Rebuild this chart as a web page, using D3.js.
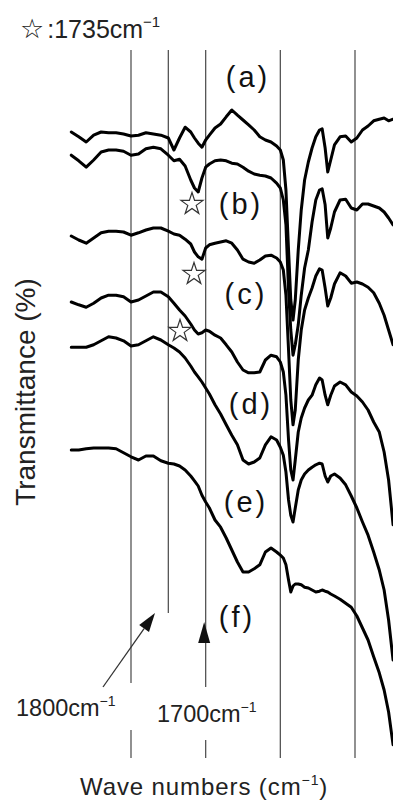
<!DOCTYPE html>
<html><head><meta charset="utf-8">
<script src="https://cdn.jsdelivr.net/npm/d3@7"></script>
<style>html,body{margin:0;padding:0;background:#fff}svg{display:block}</style>
</head><body>
<svg id="chart" width="393" height="801"></svg>
<script>
// ---- DATA ----
const wavenumbers = [2060,2040,2020,2000,1980,1960,1940,1920,1900,1880,
  1860,1840,1820,1800,1785,1770,1755,1740,1730,1720,
  1710,1700,1690,1675,1660,1645,1630,1615,1600,1585,
  1570,1555,1540,1525,1510,1500,1492,1485,1478,1472,
  1466,1460,1452,1444,1435,1425,1415,1405,1395,1388,
  1380,1373,1365,1355,1340,1325,1310,1295,1280,1265,
  1250,1235,1222,1210,1198];

const seriesA = [83.5,82.9,82.25,83.1,83.5,83.4,83.4,83.25,83,83.1,
  83.4,83.25,83.1,82.75,81.25,82.75,84.1,83.5,82.75,82.1,
  81.6,82.5,83.1,84,84.5,85.4,86.25,85.6,85,84.4,
  83.75,82.9,82.5,82.25,81.75,81.25,80,76.25,68.75,62.5,
  60,62.5,68.75,73.75,77.5,79.75,81.5,82.9,83.75,83.9,
  81.5,78.5,80,81.9,82.9,83,82.25,82.75,83.75,84.25,
  84.9,85.1,85.25,84.9,85.1];

const seriesB = [80.6,79.9,79.1,80,81,81.25,81.25,81.1,80.6,80.75,
  81.4,81.6,81.4,80.6,79.9,80.1,79.25,77.5,76.5,76,
  77.75,79.1,79.5,79.9,80,79.9,79.6,79.5,79.1,78.6,
  78.25,78.1,78,77.75,77.1,76.5,75,71.9,63.75,58.75,
  55.6,56.9,59.4,63.1,66.5,68.75,72.25,75,76.25,76.4,
  74.4,70.25,71.5,73.5,75,75.1,74,73.75,74.5,74.5,
  74.25,74,73.5,72.75,71.9];

const seriesC = [70.5,70,69.6,70.25,70.9,71.1,71.1,71,70.6,70.9,
  71.25,71.5,71.5,71.1,70.75,70.6,70.1,69.5,68.5,67.9,
  67.6,69,69.4,69.6,69.75,69.9,69.6,68.75,67.6,67.25,
  67.1,67.5,68,68.1,67.75,67.25,66.25,63.1,56.25,50,
  46.9,48.75,55,58.75,61.25,62.75,64,65.5,66.4,66.25,
  64,61.75,62.75,64.5,65.9,65.5,64.6,64.75,64.5,64.1,
  63.4,62.1,60.6,58.75,56.9];

const seriesD = [62.25,61.9,61.6,62.1,62.75,63.1,63.1,62.9,62.25,62.5,
  63,63.5,63.5,62.9,62.1,61.25,60.5,59.5,58.75,58.25,
  58.4,58.75,58.6,58.1,57.75,56.9,56,54.75,53.75,53.4,
  53.4,53.5,55,55.6,55.4,54.75,53.5,50.6,45,41.25,
  40,42.5,46,47.75,49,50,50.6,51.9,52.75,52.5,
  50.6,49.4,50.6,51.75,52.25,51.9,51,50.5,49.75,48.75,
  47.25,46,43.5,40,34.4];

const seriesE = [56.6,56.6,56.6,56.9,57.4,57.9,57.75,57.4,56.75,56.9,
  57.4,57.9,57.5,56.9,56.5,56,55.25,54.25,53.5,52.9,
  52.25,51.5,50.75,49.4,48.25,46.9,45.6,44.4,42.5,42,
  42.25,42.75,44.4,45.4,45,44.1,43.1,41,37.5,35.6,
  34.75,36.5,38.75,40,40.75,41.25,41.6,41.9,42.1,42,
  40.5,39.75,40.5,40.75,40.25,39.4,38,36.5,34.75,33.1,
  31,28.75,26.25,22.5,17.5];

const seriesF = [43.75,43.75,43.9,44,44,44,43.9,43.4,42.9,42.5,
  43,43,42.4,42.1,42,41.75,41.25,40.5,39.9,39.25,
  38.1,37.25,36.5,35,34.1,32.75,31.25,29.75,28.5,28.5,
  28.9,29.4,31,31.5,31,30.6,30.25,29.4,27.5,26,
  26.75,27,27,26.9,26.6,26.5,26.25,26,26.1,26.25,
  26.1,26,25.75,25.5,25.1,24.6,24.1,23,21.5,20,
  17.9,15.9,13.75,11,6.9];

const seriesLabels = ["(a)","(b)","(c)","(d)","(e)","(f)"];
const gridWavenumbers = [1900,1800,1700,1500,1300];
const markerLabel = "1735";
const axisLabelX = "Wave numbers (cm";
const axisLabelY = "Transmittance (%)";
const tickLabel1800 = "1800cm";
const tickLabel1700 = "1700cm";

// ---- CHART ----
const svg = d3.select("#chart");
const font = "'Liberation Sans', Arial, sans-serif";
const x = d3.scaleLinear().domain([1900, 1300]).range([131, 355]);
const y = d3.scaleLinear().domain([0, 100]).range([800, 0]);

// vertical reference lines (with gaps for labels)
const gridSegments = {
  1900: [[50, 683], [730, 758]],
  1800: [[50, 613]],
  1700: [[50, 687], [740, 758]],
  1500: [[50, 758]],
  1300: [[50, 758]]
};
const gGrid = svg.append("g");
gridWavenumbers.forEach(w => {
  gridSegments[w].forEach(([y1, y2]) => {
    gGrid.append("line")
      .attr("x1", x(w)).attr("x2", x(w))
      .attr("y1", y1).attr("y2", y2)
      .attr("stroke", "#555").attr("stroke-width", 1.3);
  });
});

// spectra
const allSeries = [seriesA, seriesB, seriesC, seriesD, seriesE, seriesF];
const line = d3.line().x(d => x(d[0])).y(d => y(d[1]));
svg.append("g").selectAll("path").data(allSeries).join("path")
  .attr("d", s => line(wavenumbers.map((w, i) => [w, s[i]])))
  .attr("fill", "none").attr("stroke", "#000")
  .attr("stroke-width", 3).attr("stroke-linejoin", "round").attr("stroke-linecap", "round");

// series labels
const labelPos = [[248, 87], [241, 214], [246, 304], [251, 414], [246, 512], [237, 627]];
svg.append("g").selectAll("text").data(seriesLabels).join("text")
  .attr("x", (d, i) => labelPos[i][0]).attr("y", (d, i) => labelPos[i][1])
  .attr("text-anchor", "middle").attr("font-family", font).attr("font-size", 29)
  .attr("letter-spacing", 3).attr("fill", "#111").text(d => d);

// star markers
const star = d3.symbol().type(d3.symbolStar).size(150);
const starPos = [[192, 204], [194, 274], [180, 331]];
svg.append("g").selectAll("path").data(starPos).join("path")
  .attr("transform", d => `translate(${d[0]},${d[1]})`)
  .attr("d", star).attr("fill", "#fff").attr("stroke", "#333").attr("stroke-width", 1.2);

// title
const title = svg.append("text").attr("x", 20).attr("y", 38)
  .attr("font-family", font).attr("font-size", 25).attr("fill", "#222");
title.append("tspan").attr("font-family", "'DejaVu Sans', sans-serif").attr("font-size", 27).text("\u2606");
title.append("tspan").attr("dx", 3).text(":" + markerLabel + "cm");
title.append("tspan").attr("dy", -11).attr("font-size", 15).text("\u22121");

// 1700 arrow
const ax = x(1700) - 1.5;
svg.append("path")
  .attr("d", `M${ax},622 L${ax - 6},643 L${ax + 6},643 Z`).attr("fill", "#111");

// 1800 arrow
const p0 = [103, 687], p1 = [155, 613];
const dx = p1[0] - p0[0], dy = p1[1] - p0[1], len = Math.hypot(dx, dy);
const ux = dx / len, uy = dy / len, hl = 19, hw = 6;
const bc = [p1[0] - ux * hl, p1[1] - uy * hl];
svg.append("line").attr("x1", p0[0]).attr("y1", p0[1]).attr("x2", bc[0]).attr("y2", bc[1])
  .attr("stroke", "#333").attr("stroke-width", 1.3);
svg.append("path")
  .attr("d", `M${p1[0]},${p1[1]} L${bc[0] - uy * hw},${bc[1] + ux * hw} L${bc[0] + uy * hw},${bc[1] - ux * hw} Z`)
  .attr("fill", "#111");

// tick annotations
function supText(xp, yp, main, size) {
  const t = svg.append("text").attr("x", xp).attr("y", yp)
    .attr("font-family", font).attr("font-size", size).attr("fill", "#222");
  t.append("tspan").text(main);
  t.append("tspan").attr("dy", -10).attr("font-size", 14).text("\u22121");
  return t;
}
supText(16, 716, tickLabel1800, 23.5);
supText(157, 722, tickLabel1700, 23.5);

// axis titles
const xt = svg.append("text").attr("x", 80).attr("y", 795)
  .attr("font-family", font).attr("font-size", 24).attr("fill", "#222").attr("letter-spacing", 0.9);
xt.append("tspan").text(axisLabelX);
xt.append("tspan").attr("dy", -10).attr("font-size", 14).text("\u22121");
xt.append("tspan").attr("dy", 10).text(")");

svg.append("text").attr("transform", "translate(35,392) rotate(-90)")
  .attr("text-anchor", "middle").attr("font-family", font).attr("font-size", 28)
  .attr("fill", "#222").text(axisLabelY);
</script>
</body></html>
